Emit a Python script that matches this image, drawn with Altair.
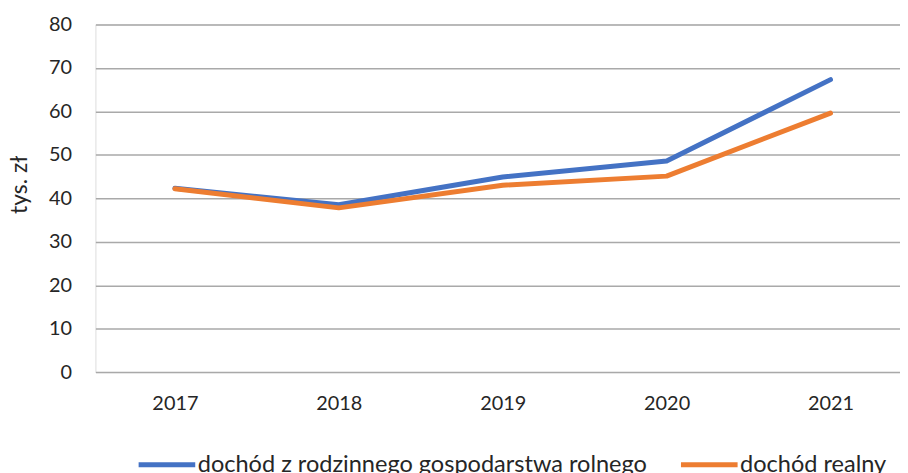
import altair as alt
import pandas as pd

years = [2017, 2018, 2019, 2020, 2021]
series_names = ["dochód z rodzinnego gospodarstwa rolnego", "dochód realny"]
income_farm = [42.3, 38.5, 44.9, 48.6, 67.3]
income_real = [42.2, 37.8, 43.0, 45.1, 59.6]
colors = ["#4472C4", "#ED7D31"]
y_ticks = [0, 10, 20, 30, 40, 50, 60, 70, 80]

df_a = pd.DataFrame({"rok": years, "wartosc": income_farm, "seria": series_names[0]})
df_b = pd.DataFrame({"rok": years, "wartosc": income_real, "seria": series_names[1]})

FONT = "Lato"

x_enc = alt.X("rok:Q",
              scale=alt.Scale(domain=[2016.515, 2021.424], nice=False, zero=False),
              axis=alt.Axis(values=years, format="d", title=None, grid=False,
                            domain=False, ticks=False, labelPadding=22,
                            labelFontSize=20, labelColor="#262626", labelFont=FONT))
y_enc = alt.Y("wartosc:Q",
              scale=alt.Scale(domain=[0, 80], nice=False),
              axis=alt.Axis(values=y_ticks, title="tys. zł", grid=True,
                            gridColor="#A9A9A9", gridWidth=1.5,
                            domain=False, ticks=False, labelPadding=24,
                            labelFontSize=20, labelColor="#262626", labelFont=FONT,
                            titleFontSize=23, titleFont=FONT, titleColor="#262626",
                            titleFontWeight="normal", titleX=-76, titleY=161,
                            titleAngle=270, titleAlign="center", titleBaseline="middle"))
color_enc = alt.Color("seria:N",
                      scale=alt.Scale(domain=series_names, range=colors),
                      legend=alt.Legend(title=None, orient="none", direction="horizontal",
                                        legendX=41, legendY=412,
                                        symbolType="stroke", symbolSize=3249,
                                        symbolStrokeWidth=5, columnPadding=23,
                                        labelOffset=0, labelFontSize=23.7,
                                        labelFont=FONT, labelColor="#262626",
                                        labelLimit=700))

line_a = alt.Chart(df_a).mark_line(strokeWidth=5, strokeCap="round", strokeJoin="round").encode(
    x=x_enc, y=y_enc, color=color_enc)
line_b = alt.Chart(df_b).mark_line(strokeWidth=5, strokeCap="round", strokeJoin="round").encode(
    x=x_enc, y=y_enc, color=color_enc)

chart = alt.layer(line_a, line_b).properties(
    width=810, height=350,
    autosize=alt.AutoSizeParams(type="none"),
    padding={"left": 88, "top": 15, "right": 0, "bottom": 100},
).configure_view(stroke=None).configure(background="white")

chart.save("out.html", embed_options={"renderer": "svg", "actions": False})
